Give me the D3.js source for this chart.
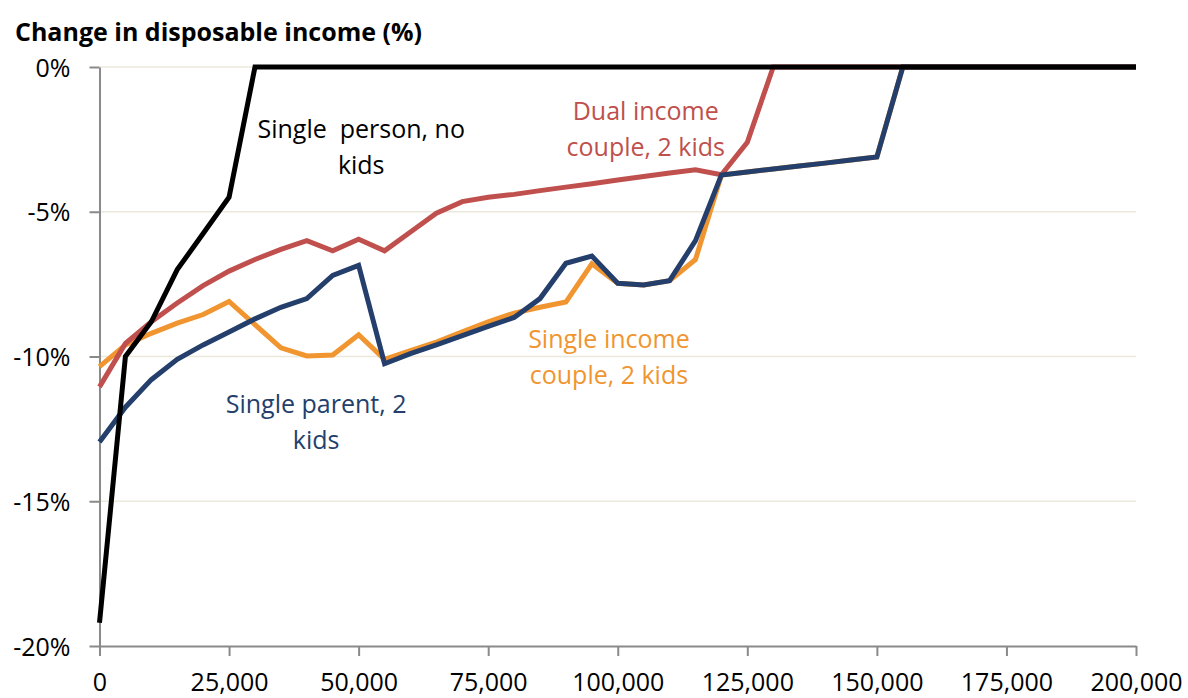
<!DOCTYPE html>
<html>
<head>
<meta charset="utf-8">
<script src="https://cdn.jsdelivr.net/npm/d3@7"></script>
<style>
  html, body { margin: 0; padding: 0; background: #fff; }
  svg { display: block; font-family: "Open Sans", sans-serif; }
</style>
</head>
<body>
<svg id="chart" width="1188" height="698"></svg>
<script>
// Gross income levels (x axis)
const income = [
  0, 5000, 10000, 15000, 20000, 25000, 30000, 35000, 40000, 45000,
  50000, 55000, 60000, 65000, 70000, 75000, 80000, 85000, 90000, 95000,
  100000, 105000, 110000, 115000, 120000, 125000, 130000, 135000, 140000, 145000,
  150000, 155000, 160000, 165000, 170000, 175000, 180000, 185000, 190000, 195000,
  200000
];

// Change in disposable income (%) per household type
const singlePerson = [
  -19.2, -10.0, -8.8, -7.0, -5.75, -4.5, 0, 0, 0, 0,
  0, 0, 0, 0, 0, 0, 0, 0, 0, 0,
  0, 0, 0, 0, 0, 0, 0, 0, 0, 0,
  0, 0, 0, 0, 0, 0, 0, 0, 0, 0,
  0
];
const dualIncome = [
  -11.05, -9.55, -8.8, -8.15, -7.55, -7.05, -6.65, -6.3, -6.0, -6.35,
  -5.95, -6.35, -5.7, -5.05, -4.65, -4.5, -4.4, -4.27, -4.15, -4.03,
  -3.9, -3.78, -3.66, -3.55, -3.72, -2.6, 0, 0, 0, 0,
  0, 0, 0, 0, 0, 0, 0, 0, 0, 0,
  0
];
const singleIncome = [
  -10.35, -9.6, -9.2, -8.85, -8.55, -8.1, -8.9, -9.7, -9.98, -9.95,
  -9.25, -10.1, -9.8, -9.5, -9.15, -8.8, -8.5, -8.3, -8.12, -6.8,
  -7.47, -7.53, -7.38, -6.65, -3.73, -3.63, -3.52, -3.42, -3.32, -3.21,
  -3.11, 0, 0, 0, 0, 0, 0, 0, 0, 0,
  0
];
const singleParent = [
  -12.95, -11.75, -10.8, -10.1, -9.6, -9.15, -8.7, -8.3, -8.0, -7.2,
  -6.85, -10.25, -9.9, -9.6, -9.28, -8.96, -8.65, -8.0, -6.78, -6.53,
  -7.47, -7.53, -7.38, -6.0, -3.73, -3.63, -3.52, -3.42, -3.32, -3.21,
  -3.11, 0, 0, 0, 0, 0, 0, 0, 0, 0,
  0
];

// Axis ticks
const xTicks = [0, 25000, 50000, 75000, 100000, 125000, 150000, 175000, 200000];
const yTicks = [0, -5, -10, -15, -20];

const titleText = "Change in disposable income (%)";

// Series in drawing order (later ones sit on top)
const series = [
  { name: "Single income couple, 2 kids", values: singleIncome, color: "#f0952f",
    label: ["Single income", "couple, 2 kids"], at: [98300, -9.7] },
  { name: "Dual income couple, 2 kids", values: dualIncome, color: "#c0504d",
    label: ["Dual income", "couple, 2 kids"], at: [105400, -1.83] },
  { name: "Single parent, 2 kids", values: singleParent, color: "#243f6b",
    label: ["Single parent, 2", "kids"], at: [41800, -11.95] },
  { name: "Single person, no kids", values: singlePerson, color: "#000000",
    label: ["Single  person, no", "kids"], at: [50500, -2.45] }
];

const svg = d3.select("#chart");

const x = d3.scaleLinear().domain([0, 200000]).range([99.5, 1136]);
const y = d3.scaleLinear().domain([-20, 0]).range([646, 67]);

// Horizontal gridlines
svg.append("g")
  .selectAll("line")
  .data(yTicks.filter(d => d !== -20))
  .join("line")
  .attr("x1", x(0)).attr("x2", x(200000))
  .attr("y1", d => y(d)).attr("y2", d => y(d))
  .attr("stroke", "#ebe8dc")
  .attr("stroke-width", 1.5);

// Axes
const axisColor = "#8a8a8a";
const yAxis = svg.append("g")
  .attr("transform", `translate(${x(0)},0)`)
  .call(d3.axisLeft(y).tickValues(yTicks).tickSize(10).tickSizeOuter(0)
    .tickPadding(19).tickFormat(d => d + "%"));
const xAxis = svg.append("g")
  .attr("transform", `translate(0,${y(-20)})`)
  .call(d3.axisBottom(x).tickValues(xTicks).tickSize(10).tickSizeOuter(0)
    .tickPadding(17).tickFormat(d3.format(",")));

[yAxis, xAxis].forEach(g => {
  g.select(".domain").attr("stroke", axisColor).attr("stroke-width", 2);
  g.selectAll(".tick line").attr("stroke", axisColor).attr("stroke-width", 2);
  g.selectAll(".tick text")
    .attr("fill", "#000")
    .style("font-size", "25px")
    .style("font-family", "'Open Sans', sans-serif");
});
yAxis.selectAll(".tick text").attr("dy", "0.36em");

// Lines
const line = d3.line()
  .x((d, i) => x(income[i]))
  .y(d => y(d));

svg.append("g")
  .selectAll("path")
  .data(series)
  .join("path")
  .attr("d", s => line(s.values))
  .attr("fill", "none")
  .attr("stroke", s => s.color)
  .attr("stroke-width", 5)
  .attr("stroke-linejoin", "miter")
  .attr("stroke-miterlimit", 3);

// Series labels
const labels = svg.append("g");
series.forEach(s => {
  const t = labels.append("text")
    .attr("text-anchor", "middle")
    .attr("fill", s.color)
    .style("font-size", "25px")
    .style("white-space", "pre");
  s.label.forEach((txt, k) => {
    t.append("tspan")
      .attr("x", x(s.at[0]))
      .attr("y", y(s.at[1]) + k * 36)
      .text(txt);
  });
});

// Axis title
svg.append("text")
  .attr("x", 15)
  .attr("y", 41)
  .attr("fill", "#000")
  .style("font-size", "25px")
  .style("font-weight", "bold")
  .text(titleText);
</script>
</body>
</html>
